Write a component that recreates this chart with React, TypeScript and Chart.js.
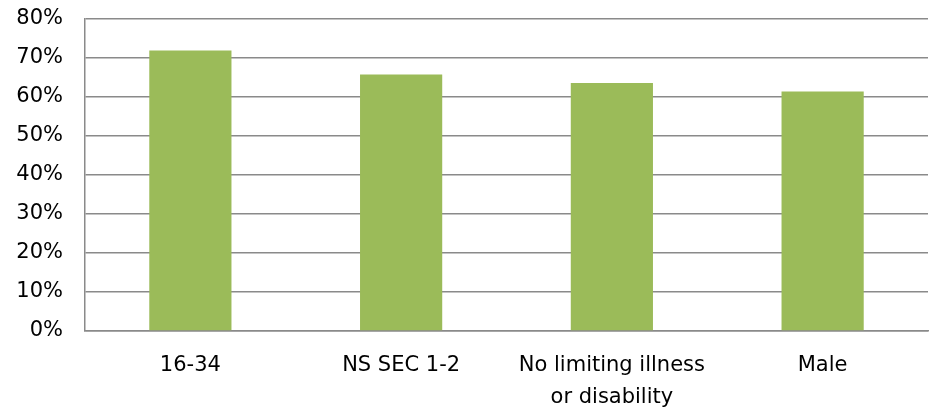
import React, { useEffect, useRef } from "react";
import { Chart, registerables } from "chart.js";

Chart.register(...registerables);

const categories: (string | string[])[] = [
  "16-34",
  "NS SEC 1-2",
  ["No limiting illness", "or disability"],
  "Male",
];
const values: number[] = [0.719, 0.658, 0.636, 0.614];
const yTicks: number[] = [0, 0.1, 0.2, 0.3, 0.4, 0.5, 0.6, 0.7, 0.8];

const BAR_COLOR = "#9BBB59";
const GRID_COLOR = "#8a8a8a";
const FONT = "'DejaVu Sans', sans-serif";

export default function App() {
  const ref = useRef<HTMLCanvasElement | null>(null);

  useEffect(() => {
    document.body.style.margin = "0";
    const canvas = ref.current;
    if (!canvas) return;
    const chart = new Chart(canvas, {
      type: "bar",
      data: {
        labels: categories,
        datasets: [
          {
            data: values,
            backgroundColor: BAR_COLOR,
            borderWidth: 0,
            categoryPercentage: 1,
            barPercentage: 0.39,
          },
        ],
      },
      options: {
        responsive: false,
        animation: false,
        maintainAspectRatio: false,
        layout: { padding: { top: 19, right: 4, bottom: 0, left: 0 } },
        plugins: {
          legend: { display: false },
          tooltip: { enabled: false },
        },
        scales: {
          x: {
            grid: { display: false, drawTicks: false },
            border: { display: true, color: GRID_COLOR, width: 1.5 },
            ticks: {
              color: "#000",
              padding: 19,
              maxRotation: 0,
              autoSkip: false,
              font: { family: FONT, size: 21, lineHeight: 1.52 },
            },
            afterFit: (scale: any) => {
              scale.height = 79;
              scale.paddingLeft = 0;
              scale.paddingRight = 0;
            },
          },
          y: {
            min: 0,
            max: 0.8,
            afterBuildTicks: (scale: any) => {
              scale.ticks = yTicks.map((v) => ({ value: v }));
            },
            grid: { color: GRID_COLOR, lineWidth: 1.5, drawTicks: false },
            border: { display: true, color: GRID_COLOR, width: 1.5 },
            ticks: {
              color: "#000",
              padding: 22,
              font: { family: FONT, size: 21 },
              callback: (v: any) => Math.round(Number(v) * 100) + "%",
            },
            afterFit: (scale: any) => {
              scale.width = 85;
              scale.paddingTop = 0;
              scale.paddingBottom = 0;
            },
          },
        },
      },
    });
    return () => chart.destroy();
  }, []);

  return (
    <div style={{ width: 932, height: 410, background: "#fff" }}>
      <canvas ref={ref} width={932} height={410} style={{ display: "block" }} />
    </div>
  );
}
